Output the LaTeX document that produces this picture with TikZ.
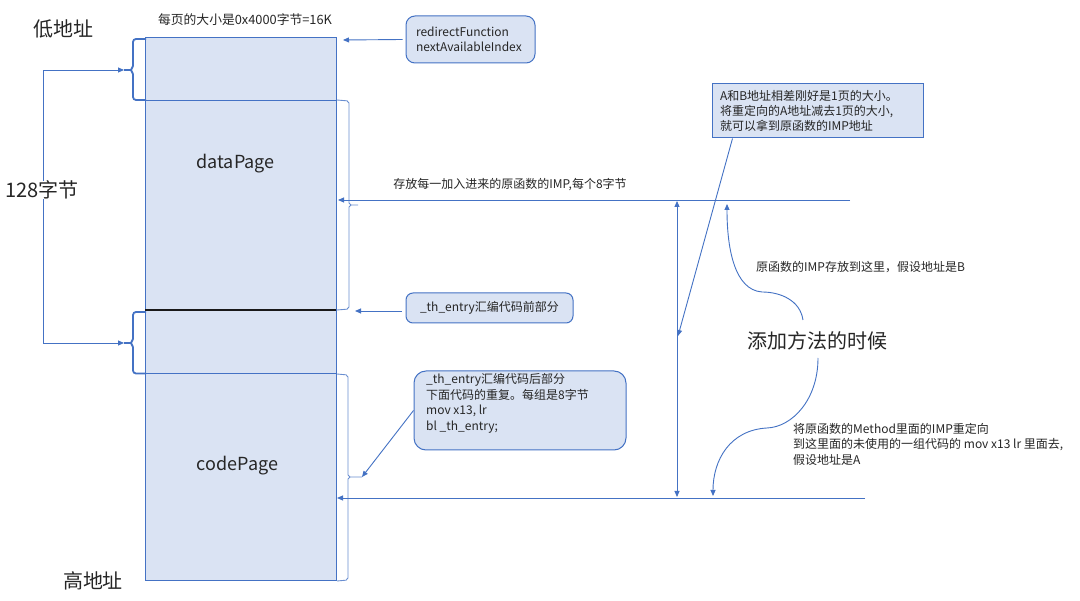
\documentclass[tikz,border=0pt]{standalone}
\usepackage{fontspec}
\setmainfont{Noto Sans CJK SC}
\usetikzlibrary{arrows.meta}
\definecolor{bfill}{HTML}{DAE3F3}
\definecolor{bline}{HTML}{4472C4}
\definecolor{txt}{HTML}{262626}
\tikzset{
  lbl/.style={inner sep=0pt, text=txt, font=\fontsize{12}{15.5}\selectfont},
  biglbl/.style={inner sep=0pt, text=txt, font=\fontsize{20}{24}\selectfont},
  pagelbl/.style={inner sep=0pt, text=txt, font=\fontsize{18}{22}\selectfont},
  tip/.tip={Triangle[length=6pt,width=5pt]},
  conn/.style={draw=bline, line width=0.9pt, -tip},
  thin/.style={draw=bline, line width=0.9pt},
  bracebig/.style={draw=bline, line width=1.8pt, rounded corners=3pt},
  bracesmall/.style={draw=bline!80, line width=0.9pt, rounded corners=2pt},
  rbox/.style={draw=bline, fill=bfill, rounded corners=9pt, line width=1pt, text=txt,
    font=\fontsize{12}{15.5}\selectfont, align=left},
  sbox/.style={draw=bline, fill=bfill, line width=1pt, text=txt,
    font=\fontsize{12}{15}\selectfont, align=left},
}
\begin{document}
\begin{tikzpicture}[x=1pt,y=-1pt]
\useasboundingbox[fill=white] (0,0) rectangle (1080,601);

% memory block
\node[draw=bline, fill=bfill, line width=1pt, minimum width=191pt, minimum height=543pt, inner sep=0pt] (mem) at (240.5,309.5) {};
\coordinate (d1l) at (145,100); \coordinate (d1r) at (336,100);
\coordinate (d2l) at (145,310); \coordinate (d2r) at (336,310);
\coordinate (d3l) at (145,373.5); \coordinate (d3r) at (336,373.5);
\draw[thin] (d1l) -- (d1r);
\draw[black!90, line width=2.6pt] (d2l) -- (d2r);
\draw[thin] (d3l) -- (d3r);

\node[pagelbl] (dp) at (235.5,164) {dataPage};
\node[pagelbl] (cp) at (237.5,466) {codePage};

% labels
\node[biglbl] (low) at (64,29) {低地址};
\node[biglbl] (high) at (93,581) {高地址};
\node[biglbl] (bytes) at (42,190) {128字节};
\node[lbl, font=\fontsize{12.8}{15.5}\selectfont] (pgsize) at (245,20) {每页的大小是0x4000字节=16K};

% left braces
\coordinate (b1tip) at (124,70);
\coordinate (b2tip) at (124,343);
\draw[bracebig] (146,39) -- (133,39) -- (133,66);
\draw[draw=bline, line width=1.8pt] (133,66) -- (131,70) -- (133,74);
\draw[bracebig] (133,74) -- (133,100) -- (146,100);
\draw[draw=bline, line width=1.4pt] (131,70) -- (b1tip);
\draw[bracebig] (146,312) -- (133,312) -- (133,339);
\draw[draw=bline, line width=1.8pt] (133,339) -- (131,343) -- (133,347);
\draw[bracebig] (133,347) -- (133,373.5) -- (146,373.5);
\draw[draw=bline, line width=1.4pt] (131,343) -- (b2tip);

\coordinate (c1) at (43,70);
\coordinate (c2) at (43,343);
\draw[conn] (bytes.north -| c1) -- (c1) -- (b1tip);
\draw[conn] (bytes.south -| c2) -- (c2) -- (b2tip);

% right thin braces
\coordinate (rb1tip) at (358,205);
\coordinate (rb2tip) at (362,477);
\draw[bracesmall] (337,100) -- (349,101) -- (349,203);
\draw[bracesmall] (349,207) -- (349,309) -- (337,310);
\draw[draw=bline!80, line width=0.9pt] (349,203) -- (351,205) -- (rb1tip);
\draw[draw=bline!80, line width=0.9pt] (351,205) -- (349,207);
\draw[bracesmall] (337,374) -- (348,375) -- (348,475);
\draw[bracesmall] (348,479) -- (348,580) -- (337,581);
\draw[draw=bline!80, line width=0.9pt] (348,475) -- (350,477) -- (rb2tip);
\draw[draw=bline!80, line width=0.9pt] (350,477) -- (348,479);

% boxes
\node[rbox, minimum width=129pt, minimum height=47pt, text width=109pt, inner xsep=10pt, inner ysep=0pt] (rf) at (470.5,39.5)
  {redirectFunction\\nextAvailableIndex};
\node[rbox, minimum width=167pt, minimum height=30pt, inner sep=0pt, rounded corners=7pt] (te1) at (489.5,308) {\_th\_entry汇编代码前部分};
\node[rbox, minimum width=212pt, minimum height=79pt, inner sep=0pt, rounded corners=12pt] (te2) at (520,410.5) {};
\node[lbl, align=left, anchor=north west] (te2t) at (426,373.5)
  {\_th\_entry汇编代码后部分\\下面代码的重复。每组是8字节\\mov x13, lr\\bl \_th\_entry;};
\node[sbox, minimum width=211pt, minimum height=54pt, text width=195pt, inner xsep=8pt, inner ysep=0pt] (ab) at (817.5,111)
  {A和B地址相差刚好是1页的大小。\\将重定向的A地址减去1页的大小,\\就可以拿到原函数的IMP地址};

% arrows from boxes
\coordinate (rft) at (343,40);
\draw[conn] ([xshift=-3pt]rf.west) -- (rft);
\coordinate (te1t) at (355,311);
\draw[conn] ([xshift=-4pt,yshift=-3pt]te1.west) -- (te1t);
\draw[conn] (te2.west) -- (rb2tip);

% horizontal lines
\coordinate (h1r) at (850,200); \coordinate (h1l) at (338,200);
\coordinate (h2r) at (865,498); \coordinate (h2l) at (337,498);
\draw[conn] (h1r) -- (h1l);
\draw[conn] (h2r) -- (h2l);
\node[lbl] (store) at (510,185) {存放每一加入进来的原函数的IMP,每个8字节};

% vertical double arrow
\coordinate (v1) at (677,201); \coordinate (v2) at (677,497);
\draw[draw=bline, line width=0.9pt, tip-tip] (v1) -- (v2);

% diagonal from A&B box
\coordinate (dg) at (678,336);
\draw[conn] ([xshift=21pt]ab.south west) -- (dg);

% big label and curves
\node[biglbl] (add) at (817,341) {添加方法的时候};
\node[lbl, anchor=west] (bnote) at (756,267) {原函数的IMP存放到这里，假设地址是B};
\node[lbl, align=left, anchor=north west] (anote) at (793,423)
  {将原函数的Method里面的IMP重定向\\到这里面的未使用的一组代码的 mov x13 lr 里面去,\\假设地址是A};

\coordinate (cu1) at (803,320); \coordinate (cu1e) at (727,204);
\coordinate (cl1) at (818,358); \coordinate (cl1e) at (713,496);
\draw[conn] (cu1) .. controls (800,300) and (780,292) .. (762,292) .. controls (735,290) and (727,250) .. (cu1e);
\draw[conn] (cl1) .. controls (818,400) and (792,427) .. (767,428) .. controls (730,430) and (713,460) .. (cl1e);

\end{tikzpicture}
\end{document}
